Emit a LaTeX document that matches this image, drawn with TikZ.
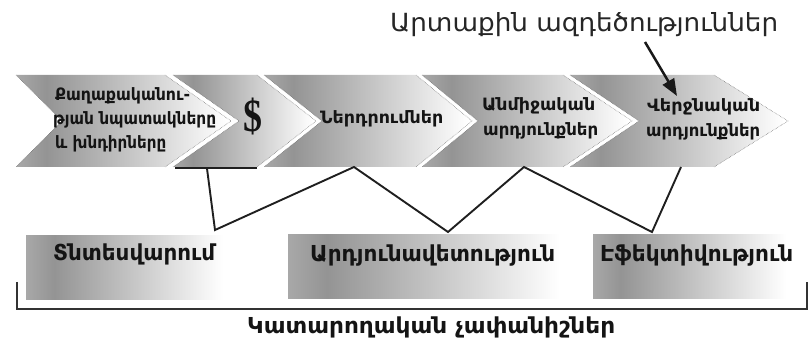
\documentclass[tikz,border=0pt]{standalone}
\usepackage{fontspec}
\usetikzlibrary{arrows.meta}
\newfontfamily\arm{DejaVu Sans}
\newfontfamily\dserif{Liberation Serif}
\newcommand\fitw[2]{\resizebox{#1}{\height}{#2}}
\definecolor{gA}{gray}{0.66}
\definecolor{gB}{gray}{0.58}
\definecolor{gC}{gray}{1.0}
\definecolor{ink}{gray}{0.08}
\pgfdeclarehorizontalshading{chevshade}{100bp}{color(0bp)=(gA); color(25bp)=(gA); color(32bp)=(gB); color(74bp)=(gC); color(100bp)=(gC)}
\tikzset{
  chev/.style={shading=chevshade},
  chevedge/.style={densely dotted, draw=black!60, line width=0.5pt},
  box/.style={shading=chevshade, minimum width=#1, minimum height=64pt, inner sep=0pt, outer sep=0pt},
  ctext/.style={anchor=base west, inner sep=0pt, text=ink, font=\arm\bfseries\fontsize{17}{20}\selectfont},
  btext/.style={anchor=base west, inner sep=0pt, text=ink, font=\arm\bfseries\fontsize{22}{26}\selectfont},
  zig/.style={draw=black!88, line width=1.9pt},
  brk/.style={draw=black!80, line width=1.6pt},
  arr/.style={draw=black!90, line width=2.5pt, -{Triangle[length=17pt,width=13pt]}},
}
\begin{document}
\begin{tikzpicture}[x=1pt,y=-1pt]
\useasboundingbox (0,0) rectangle (809,347);
% chevrons
\path[chev] (16,75) -- (165,75) -- (231,121) -- (165,167) -- (16,167) -- (62,121) -- cycle;
\path[chev] (173,75) -- (257,75) -- (316,121) -- (257,167) -- (173,167) -- (239,121) -- cycle;
\path[chev] (264,75) -- (416,75) -- (472,121) -- (416,167) -- (264,167) -- (322,121) -- cycle;
\path[chev] (422,75) -- (563,75) -- (632,121) -- (563,167) -- (422,167) -- (478,121) -- cycle;
\path[chev] (570,75) -- (714,75) -- (788,121) -- (714,167) -- (570,167) -- (639,121) -- cycle;
% dotted edges
\draw[chevedge] (16,75) -- (62,121) -- (16,167);
\draw[chevedge] (165,75) -- (231,121) -- (165,167);
\draw[chevedge] (173,75) -- (239,121) -- (173,167);
\draw[chevedge] (257,75) -- (316,121) -- (257,167);
\draw[chevedge] (264,75) -- (322,121) -- (264,167);
\draw[chevedge] (416,75) -- (472,121) -- (416,167);
\draw[chevedge] (422,75) -- (478,121) -- (422,167);
\draw[chevedge] (563,75) -- (632,121) -- (563,167);
\draw[chevedge] (570,75) -- (639,121) -- (570,167);
\draw[chevedge] (714,75) -- (788,121) -- (714,167);
% bar under chevron 2
\coordinate (barL) at (175,168.5);
\coordinate (barR) at (257,168.5);
\draw[line width=2pt, draw=black!88] (barL) -- (barR);
% bottom boxes
\node[box=201pt] (r1) at (126.5,267.5) {};
\node[box=277pt] (r2) at (426.5,266.5) {};
\node[box=197pt] (r3) at (691.5,266.5) {};
% zigzag
\coordinate (z0) at (207,168.5);
\coordinate (z1) at (215,230);
\coordinate (z2) at (354,167);
\coordinate (z3) at (448,232);
\coordinate (z4) at (524,167);
\coordinate (z5) at (652,232);
\coordinate (z6) at (681,167);
\draw[zig] (z0) -- (z1) -- (z2) -- (z3) -- (z4) -- (z5) -- (z6);
% bracket
\coordinate (b1) at (17,282);
\coordinate (b2) at (17,309);
\coordinate (b3) at (807,309);
\coordinate (b4) at (807,282);
\draw[brk] (b1) -- (b2) -- (b3) -- (b4);
% chevron texts
\node[ctext] (c1a) at (55,101) {\fitw{135pt}{Քաղաքականու-}};
\node[ctext] (c1b) at (53,125) {\fitw{163pt}{թյան նպատակները}};
\node[ctext] (c1c) at (55,149) {\fitw{111pt}{և խնդիրները}};
\node[inner sep=0pt, text=ink] (dol) at (253,116.5) {\resizebox*{19pt}{37pt}{\dserif\bfseries\$}};
\node[ctext] (c3) at (320,124) {\fitw{123pt}{Ներդրումներ}};
\node[ctext] (c4a) at (482,111) {\fitw{113pt}{Անմիջական}};
\node[ctext] (c4b) at (483,136) {\fitw{115pt}{արդյունքներ}};
\node[ctext] (c5a) at (647,112) {\fitw{113pt}{Վերջնական}};
\node[ctext] (c5b) at (646,137) {\fitw{114pt}{արդյունքներ}};
% bottom texts
\node[btext] (t1) at (53,261) {\fitw{162pt}{Տնտեսվարում}};
\node[btext] (t2) at (310,262) {\fitw{245pt}{Արդյունավետություն}};
\node[btext] (t3) at (600,262) {\fitw{193pt}{Էֆեկտիվություն}};
\node[btext] (lbl) at (247,334) {\fitw{368pt}{Կատարողական չափանիշներ}};
% top label and arrow
\node[anchor=base west, inner sep=0pt, text=black!85, font=\arm\fontsize{25}{30}\selectfont] (ext) at (390,32) {\fitw{388pt}{Արտաքին ազդեծություններ}};
\coordinate (as) at (645,42);
\coordinate (ae) at (677,96);
\draw[arr] (as) -- (ae);
\end{tikzpicture}
\end{document}
